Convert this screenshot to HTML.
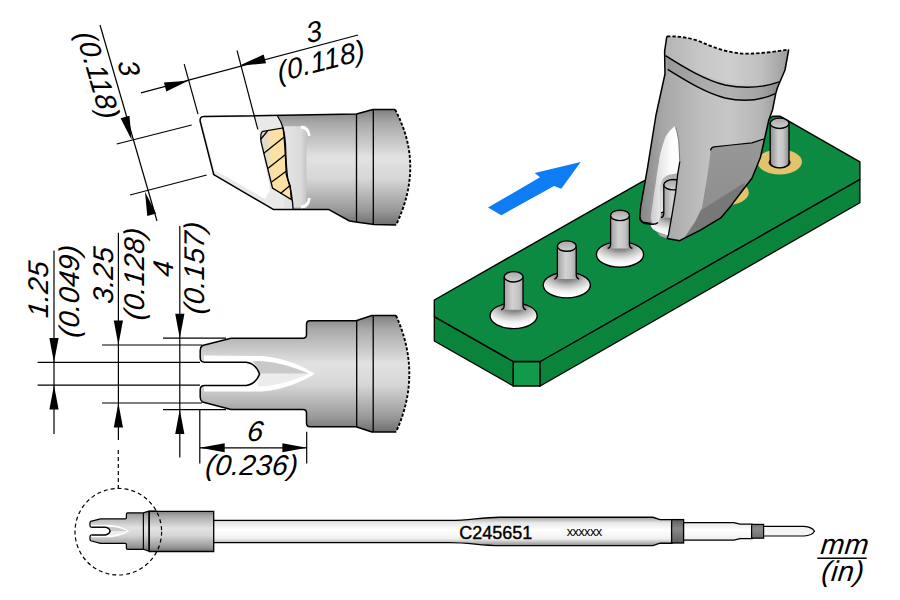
<!DOCTYPE html>
<html><head><meta charset="utf-8">
<style>
html,body{margin:0;padding:0;background:#fff;}
body{width:900px;height:600px;overflow:hidden;}
svg{display:block;}
text{font-family:"Liberation Sans",sans-serif;font-style:italic;fill:#000;}
</style></head><body>
<svg width="900" height="600" viewBox="0 0 900 600">
<defs>
<linearGradient id="gT" x1="0" y1="109" x2="0" y2="225" gradientUnits="userSpaceOnUse">
<stop offset="0" stop-color="#7e7e7e"/><stop offset="0.12" stop-color="#a8a8a8"/><stop offset="0.42" stop-color="#e2e2e2"/><stop offset="0.6" stop-color="#d6d6d6"/><stop offset="0.88" stop-color="#979797"/><stop offset="1" stop-color="#6e6e6e"/>
</linearGradient>
<linearGradient id="gM" x1="0" y1="315" x2="0" y2="432" gradientUnits="userSpaceOnUse">
<stop offset="0" stop-color="#7e7e7e"/><stop offset="0.12" stop-color="#a8a8a8"/><stop offset="0.42" stop-color="#e2e2e2"/><stop offset="0.6" stop-color="#d6d6d6"/><stop offset="0.88" stop-color="#979797"/><stop offset="1" stop-color="#6e6e6e"/>
</linearGradient>
<linearGradient id="gB" x1="0" y1="511" x2="0" y2="552" gradientUnits="userSpaceOnUse">
<stop offset="0" stop-color="#7e7e7e"/><stop offset="0.12" stop-color="#a8a8a8"/><stop offset="0.42" stop-color="#e2e2e2"/><stop offset="0.6" stop-color="#d6d6d6"/><stop offset="0.88" stop-color="#979797"/><stop offset="1" stop-color="#6e6e6e"/>
</linearGradient>
<linearGradient id="gS" x1="0" y1="517" x2="0" y2="546" gradientUnits="userSpaceOnUse">
<stop offset="0" stop-color="#9a9a9a"/><stop offset="0.2" stop-color="#e8e8e8"/><stop offset="0.45" stop-color="#ffffff"/><stop offset="0.75" stop-color="#f0f0f0"/><stop offset="1" stop-color="#8a8a8a"/>
</linearGradient>
<linearGradient id="gD" x1="0" y1="519" x2="0" y2="544" gradientUnits="userSpaceOnUse">
<stop offset="0" stop-color="#5a5a5a"/><stop offset="0.4" stop-color="#8a8a8a"/><stop offset="1" stop-color="#5a5a5a"/>
</linearGradient>
<linearGradient id="gPin" x1="0" y1="0" x2="1" y2="0">
<stop offset="0" stop-color="#8e8e8e"/><stop offset="0.45" stop-color="#d2d2d2"/><stop offset="0.7" stop-color="#c4c4c4"/><stop offset="1" stop-color="#8a8a8a"/>
</linearGradient>
<radialGradient id="gFl" cx="0.5" cy="0.12" r="0.78" fx="0.5" fy="0.12">
<stop offset="0" stop-color="#6a6a6a"/><stop offset="0.3" stop-color="#8c8c8c"/><stop offset="0.52" stop-color="#c2c2c2"/><stop offset="0.78" stop-color="#eeeeee"/><stop offset="1" stop-color="#ffffff"/>
</radialGradient>
<linearGradient id="gTip3" x1="640" y1="0" x2="790" y2="0" gradientUnits="userSpaceOnUse">
<stop offset="0" stop-color="#868686"/><stop offset="0.15" stop-color="#a6a6a6"/><stop offset="0.42" stop-color="#bfbfbf"/><stop offset="0.6" stop-color="#c6c6c6"/><stop offset="0.8" stop-color="#b6b6b6"/><stop offset="0.92" stop-color="#9c9c9c"/><stop offset="1" stop-color="#888888"/>
</linearGradient>
<linearGradient id="gFace" x1="0" y1="140" x2="0" y2="240" gradientUnits="userSpaceOnUse">
<stop offset="0" stop-color="#989898"/><stop offset="1" stop-color="#8a8a8a"/>
</linearGradient>
<clipPath id="slotclip"><path d="M677.7 173.3 L668.3 175 C665 176.5 663 178 662 180.5 C660.5 184 660 190 660.2 200 L660.8 215 Q660.5 220 658 222.5 L650 224.5 L652 229 L656 231 L668.3 235.6 L671.5 217.9 L675.6 192.9 L677.7 174.2 Z"/></clipPath>
<linearGradient id="gTop" x1="0" y1="0" x2="0" y2="1"><stop offset="0" stop-color="#a8a8a8"/><stop offset="1" stop-color="#d0d0d0"/></linearGradient>
<linearGradient id="gCr" x1="650" y1="0" x2="680" y2="0" gradientUnits="userSpaceOnUse"><stop offset="0" stop-color="#c8c8c8"/><stop offset="0.35" stop-color="#e8e8e8"/><stop offset="0.7" stop-color="#fcfcfc"/><stop offset="1" stop-color="#ffffff"/></linearGradient>
<linearGradient id="gCol" x1="284" y1="0" x2="306.5" y2="0" gradientUnits="userSpaceOnUse"><stop offset="0" stop-color="#e4e4e4"/><stop offset="0.75" stop-color="#dadada"/><stop offset="1" stop-color="#c4c4c4"/></linearGradient>
<linearGradient id="gHat" x1="261" y1="0" x2="291" y2="0" gradientUnits="userSpaceOnUse"><stop offset="0" stop-color="#d8d8d8"/><stop offset="0.22" stop-color="#e8dcc0"/><stop offset="0.4" stop-color="#fbe2a4"/><stop offset="1" stop-color="#fbe2a4"/></linearGradient>
<linearGradient id="gCav" x1="0" y1="173" x2="0" y2="236" gradientUnits="userSpaceOnUse"><stop offset="0" stop-color="#a8a8a8"/><stop offset="0.3" stop-color="#d8d8d8"/><stop offset="1" stop-color="#f0f0f0"/></linearGradient>
</defs>

<!-- ===== Top tip (side view) ===== -->
<g id="toptip">
<path d="M203.5 116.6 L356.5 114 L372.8 109.5 L395 109.5 Q425 165 396 225 L374 224.5 L357.7 222.2 L349.5 221 L328.5 209.4 L273.3 209.4 L213.8 174.7 L200.2 121.5 Q199.4 116.6 203.5 116.6 Z" fill="url(#gT)"/>
<!-- chisel area -->
<path d="M203.5 116.6 L277.5 116 C283 124 284.5 132 285.5 145 C286 160 286.5 172 288 180 C290.5 188 292.5 198 293.1 209.4 L273.3 209.4 L213.8 174.7 L200.2 121.5 Q199.4 116.6 203.5 116.6 Z" fill="#e9e9e9"/>
<path d="M202 117.5 L256 117.5 L258 128 L270 190 L265 199 L220 173 L214.5 171 L201.5 120 Z" fill="#ffffff"/>
<!-- collar highlight -->
<rect x="284" y="126.2" width="22.5" height="81.4" fill="url(#gCol)"/>
<path d="M301 127 Q308.5 127.5 309.3 136" fill="none" stroke="#fff" stroke-width="2.8"/>
<path d="M301 207 Q308.5 206.5 309.3 198" fill="none" stroke="#fff" stroke-width="2.8"/>
<!-- hatch -->
<path d="M263 131.3 L283 127.9 C285 140 285.5 160 286.3 174.7 C287.5 180 290 184 290.4 186.7 L291.3 199.5 L272.5 188 L261 141.7 Q260 132 263 131.3 Z" fill="url(#gHat)" stroke="#000" stroke-width="1.3"/>
<g stroke="#000" stroke-width="1.3">
<line x1="260.5" y1="139.5" x2="267.5" y2="131"/>
<line x1="263.5" y1="153.5" x2="284.2" y2="137"/>
<line x1="267.8" y1="168.5" x2="285.5" y2="154.5"/>
<line x1="271.6" y1="182" x2="286.5" y2="171"/>
<line x1="280.5" y1="193.5" x2="290" y2="185.5"/>
</g>
<path d="M277.5 116 C283 124 284.5 132 285.5 145 C286 160 286.5 172 288 180 C290.5 188 292.5 198 293.1 209.4" fill="none" stroke="#000" stroke-width="1.3"/>
<path d="M203.5 116.6 L356.5 114 L372.8 109.5 L395 109.5 M396 225 L374 224.5 L357.7 222.2 L349.5 221 L328.5 209.4 L273.3 209.4 L213.8 174.7 L200.2 121.5 Q199.4 116.6 203.5 116.6" fill="none" stroke="#000" stroke-width="1.5" stroke-linejoin="round"/>
<path d="M395 109.5 Q425 165 396 225" fill="none" stroke="#000" stroke-width="1.9" stroke-dasharray="3 1.8"/>
<line x1="356.5" y1="114" x2="356.5" y2="222.2" stroke="#000" stroke-width="1.3"/>
<line x1="373.3" y1="109.5" x2="373.3" y2="224.5" stroke="#000" stroke-width="1.3"/>
</g>

<!-- ===== Middle tip (top view) ===== -->
<g id="midtip">
<path id="midOutline" d="M231 338.2 L303 338.2 Q306.5 338.2 306.5 334.5 L306.5 324.5 Q306.5 320.8 310 320.8 L356 320.8 L372 315.5 L396 315.5 Q422.6 373.8 396 432 L372 432 L356 426.8 L310 426.8 Q306.5 426.8 306.5 423 L306.5 413 Q306.5 409.5 303 409.5 L231 409.5 L202.5 402 Q200.2 400.5 200.2 397 L200.2 390 Q200.2 385.5 204.5 385.5 L246 385.5 Q256 384 259.5 374 Q256 363.5 246 362.2 L204.5 362.2 Q200.2 362.2 200.2 357.5 L200.2 350.5 Q200.2 347 202.5 345.5 Z" fill="url(#gM)"/>
<!-- inner groove highlights -->
<path d="M204 355.5 L262 356 C285 358 302 366 315 373.8 C302 381.6 285 389.6 262 391.5 L204 391.5 L204 385.5 L246 385.5 Q256 384 259.5 374 Q256 363.5 246 362.2 L204 362.2 Z" fill="#ffffff"/>
<path d="M258 361 C280 362 296 368 309 373.8 L260 373.8 Q258 366 252 361.5 Z" fill="#c9c9c9"/>
<path d="M260 373.8 L309 373.8 C296 379.6 280 385.6 258 386.6 Q257 381 260 373.8 Z" fill="#ececec"/>
<path d="M231 338.2 L303 338.2 Q306.5 338.2 306.5 334.5 L306.5 324.5 Q306.5 320.8 310 320.8 L356 320.8 L372 315.5 L396 315.5 M396 432 L372 432 L356 426.8 L310 426.8 Q306.5 426.8 306.5 423 L306.5 413 Q306.5 409.5 303 409.5 L231 409.5 L202.5 402 Q200.2 400.5 200.2 397 L200.2 390 Q200.2 385.5 204.5 385.5 L246 385.5 Q256 384 259.5 374 Q256 363.5 246 362.2 L204.5 362.2 Q200.2 362.2 200.2 357.5 L200.2 350.5 Q200.2 347 202.5 345.5 L231 338.2" fill="none" stroke="#000" stroke-width="1.5" stroke-linejoin="round"/>
<path d="M396 315.5 Q422.6 373.8 396 432" fill="none" stroke="#000" stroke-width="1.9" stroke-dasharray="3 1.8"/>
<line x1="356.7" y1="320.6" x2="356.7" y2="427" stroke="#000" stroke-width="1.3"/>
<line x1="373.2" y1="315.5" x2="373.2" y2="432" stroke="#000" stroke-width="1.3"/>
</g>

<!-- ===== Dimension lines ===== -->
<g stroke="#000" stroke-width="1.2" fill="none">
<!-- top vertical-ish dim -->
<line x1="100" y1="25" x2="157" y2="221"/>
<line x1="116.7" y1="144" x2="191.7" y2="125"/>
<line x1="130" y1="195" x2="206.7" y2="175"/>
<!-- top horizontal-ish dim -->
<line x1="141" y1="92.8" x2="358" y2="35"/>
<line x1="184.2" y1="64.2" x2="198" y2="114.2"/>
<line x1="237" y1="50.3" x2="257.8" y2="129.4"/>
<!-- left vertical dims -->
<line x1="54" y1="250.6" x2="54" y2="434"/>
<line x1="118.4" y1="232.7" x2="118.4" y2="440"/>
<line x1="179.8" y1="226" x2="179.8" y2="457.5"/>
<line x1="37.6" y1="362.4" x2="200" y2="362.4"/>
<line x1="37.6" y1="385.2" x2="200" y2="385.2"/>
<line x1="102" y1="345" x2="202" y2="345"/>
<line x1="102" y1="403" x2="202" y2="403"/>
<line x1="163" y1="338.2" x2="226" y2="338.2"/>
<line x1="163" y1="409.6" x2="226" y2="409.6"/>
<!-- bottom 6 dim -->
<line x1="199.8" y1="409.6" x2="199.8" y2="463.4"/>
<line x1="306.7" y1="431.7" x2="306.7" y2="463.4"/>
<line x1="199.8" y1="447.8" x2="306.7" y2="447.8"/>
</g>
<!-- arrowheads -->
<g fill="#000">
<path d="M54 362.4 L49.4 338 L58.6 338 Z"/>
<path d="M54 385.2 L49.4 409.6 L58.6 409.6 Z"/>
<path d="M118.4 345 L113.8 320.6 L123 320.6 Z"/>
<path d="M118.4 403 L113.8 427.4 L123 427.4 Z"/>
<path d="M179.8 338.2 L175.2 313.8 L184.4 313.8 Z"/>
<path d="M179.8 409.6 L175.2 434 L184.4 434 Z"/>
<path d="M199.8 447.8 L224.7 443.3 L224.7 452.3 Z"/>
<path d="M306.7 447.8 L282.4 443.3 L282.4 452.3 Z"/>
<!-- rotated dims arrows -->
<g transform="translate(131.7,140) rotate(-16.2)"><path d="M0 0 L-4.6 -24 L4.6 -24 Z"/></g>
<g transform="translate(145,191.7) rotate(-16.2)"><path d="M0 0 L-4.6 24 L4.6 24 Z"/></g>
<g transform="translate(188.3,80.8) rotate(-14.9)"><path d="M0 0 L-24 -4.6 L-24 4.6 Z"/></g>
<g transform="translate(239.7,65.6) rotate(-14.9)"><path d="M0 0 L26 -4.6 L26 4.6 Z"/></g>
</g>

<!-- dimension texts -->
<g font-size="28.5" letter-spacing="0.3">
<text transform="translate(314,31.5) rotate(-14.9) skewX(-6)" text-anchor="middle" dy="0.35em">3</text>
<text transform="translate(321.5,63.3) rotate(-14.9) skewX(-6)" text-anchor="middle" dy="0.26em">(0.118)</text>
<text transform="translate(129.2,68.3) rotate(73.8) skewX(-6)" text-anchor="middle" dy="0.35em">3</text>
<text transform="translate(95.8,75.8) rotate(73.8) skewX(-6)" text-anchor="middle" dy="0.26em">(0.118)</text>
<text transform="translate(38.5,289.2) rotate(-90) skewX(-6)" text-anchor="middle" dy="0.35em">1.25</text>
<text transform="translate(71.2,291.2) rotate(-90) skewX(-6)" text-anchor="middle" dy="0.26em">(0.049)</text>
<text transform="translate(102.9,274.9) rotate(-90) skewX(-6)" text-anchor="middle" dy="0.35em">3.25</text>
<text transform="translate(136.1,273.9) rotate(-90) skewX(-6)" text-anchor="middle" dy="0.26em">(0.128)</text>
<text transform="translate(163.5,268.5) rotate(-90) skewX(-6)" text-anchor="middle" dy="0.35em">4</text>
<text transform="translate(196.6,267.9) rotate(-90) skewX(-6)" text-anchor="middle" dy="0.26em">(0.157)</text>
<text transform="translate(254.5,441.3) skewX(-6)" text-anchor="middle">6</text>
<text transform="translate(251,474.8) skewX(-6)" text-anchor="middle">(0.236)</text>
<text transform="translate(844,554.3) skewX(-6)" text-anchor="middle">mm</text>
<text transform="translate(842,581.3) skewX(-6)" text-anchor="middle">(in)</text>
</g>
<line x1="817.3" y1="558.3" x2="866.7" y2="558.3" stroke="#000" stroke-width="1.5"/>

<!-- ===== Bottom full tip ===== -->
<g id="bottomtip">
<!-- shaft -->
<path d="M213 520.4 L450 520.4 C470 520.4 480 517.4 500 517.3 L653 517.3 L660 519.6 L672 519.6 L672 543.2 L660 543.2 L653 545.6 L500 545.6 C480 545.6 470 542.6 450 542.6 L213 542.6 Z" fill="url(#gS)" stroke="#000" stroke-width="1.4"/>
<rect x="671.6" y="519.6" width="12" height="23.4" fill="url(#gD)" stroke="#000" stroke-width="1.3"/>
<path d="M683.6 522.6 L734 522.6 L740 524.2 L752 524.2 L752 538.6 L740 538.6 L734 540.2 L683.6 540.2 Z" fill="url(#gS)" stroke="#000" stroke-width="1.3"/>
<rect x="751.6" y="524.4" width="12" height="13.8" fill="url(#gD)" stroke="#000" stroke-width="1.2"/>
<path d="M763.6 526.4 L804 526.4 Q812 527 814.5 531.2 Q812 535.5 804 536 L763.6 536 Z" fill="#f4f4f4" stroke="#000" stroke-width="1.2"/>
<!-- body -->
<g transform="translate(126.4,531.1) scale(0.343) translate(-306.5,-373.8)">
<path d="M231 338.2 L303 338.2 Q306.5 338.2 306.5 334.5 L306.5 324.5 Q306.5 320.8 310 320.8 L356 320.8 L372 315.5 L396 315.5 L396 432 L372 432 L356 426.8 L310 426.8 Q306.5 426.8 306.5 423 L306.5 413 Q306.5 409.5 303 409.5 L231 409.5 L202.5 402 Q200.2 400.5 200.2 397 L200.2 390 Q200.2 385.5 204.5 385.5 L246 385.5 Q256 384 259.5 374 Q256 363.5 246 362.2 L204.5 362.2 Q200.2 362.2 200.2 357.5 L200.2 350.5 Q200.2 347 202.5 345.5 Z" fill="url(#gM)" stroke="#000" stroke-width="3.6" stroke-linejoin="round"/>
<path d="M204 355.5 L262 356 C285 358 302 366 315 373.8 C302 381.6 285 389.6 262 391.5 L204 391.5 L204 385.5 L246 385.5 Q256 384 259.5 374 Q256 363.5 246 362.2 L204 362.2 Z" fill="#ffffff"/>
<path d="M258 361 C280 362 296 368 309 373.8 L260 373.8 Q258 366 252 361.5 Z" fill="#c9c9c9"/>
<path d="M260 373.8 L309 373.8 C296 379.6 280 385.6 258 386.6 Q257 381 260 373.8 Z" fill="#ececec"/>
<path d="M204.5 385.5 L246 385.5 Q256 384 259.5 374 Q256 363.5 246 362.2 L204.5 362.2" fill="none" stroke="#000" stroke-width="3.6"/>
<line x1="356" y1="320.8" x2="356" y2="426.8" stroke="#000" stroke-width="3.4"/>
<line x1="372.3" y1="315.5" x2="372.3" y2="432" stroke="#000" stroke-width="3.4"/>
</g>
<path d="M149.3 511.4 L213.7 511.4 L213.7 551.5 L149.3 551.5 Z" fill="url(#gB)" stroke="#000" stroke-width="1.3"/>
<!-- dashed circle & leader -->
<circle cx="118.3" cy="531.7" r="43.3" fill="none" stroke="#000" stroke-width="1.2" stroke-dasharray="4 3"/>
<line x1="118.3" y1="450" x2="118.3" y2="488.4" stroke="#000" stroke-width="1.2" stroke-dasharray="4 3"/>
<text x="459.3" y="539" font-size="18" stroke="#000" stroke-width="0.4" style="font-style:normal">C245651</text>
<text x="566.7" y="536.1" font-size="12.8" letter-spacing="-0.6" style="font-style:normal">xxxxxx</text>
</g>

<!-- ===== 3D illustration ===== -->
<g id="iso">
<!-- blue arrow -->
<path d="M488 207.6 L501.3 215.3 L554 186 L561.3 188.7 L580.7 162 L534.7 172.9 L540 177.3 Z" fill="#0e7cf4"/>
<!-- board side faces -->
<path d="M434.3 316.7 L513.3 361.5 L513.3 386 L434.3 341 Z" fill="#0b843b" stroke="#000" stroke-width="1.3" stroke-linejoin="round"/>
<path d="M513.3 361.5 L540.2 361.5 L540.2 386 L513.3 386 Z" fill="#109a49" stroke="#000" stroke-width="1.3"/>
<path d="M540.2 361.5 L859.9 179.3 L859.9 202.7 L540.2 386 Z" fill="#0b843b" stroke="#000" stroke-width="1.3" stroke-linejoin="round"/>
<!-- board top -->
<path d="M434.3 300 L641 182.3 L769 118.5 L773 116.2 L780 116.2 L859.9 161.8 L859.9 179.3 L540.2 361.5 L513.3 361.5 L434.3 316.7 Z" fill="#0c8a41" stroke="#000" stroke-width="1.4" stroke-linejoin="round"/>
<ellipse cx="513.6" cy="315.8" rx="23.6" ry="12.8" fill="url(#gFl)" stroke="#000" stroke-width="1.4"/>
<path d="M504.2 276.8 L504.2 305.8 Q504.2 308.8 501.2 309.8 L526.0 309.8 Q523.0 308.8 523.0 305.8 L523.0 276.8 Z" fill="url(#gPin)"/>
<path d="M504.2 276.8 L504.2 305.8 Q504.2 308.8 501.2 309.8 M526.0 309.8 Q523.0 308.8 523.0 305.8 L523.0 276.8" fill="none" stroke="#000" stroke-width="1.3"/>
<ellipse cx="513.6" cy="276.8" rx="9.4" ry="5.2" fill="url(#gTop)" stroke="#000" stroke-width="1.4"/>
<ellipse cx="566.8" cy="285.1" rx="23.6" ry="12.8" fill="url(#gFl)" stroke="#000" stroke-width="1.4"/>
<path d="M557.4 246.1 L557.4 275.1 Q557.4 278.1 554.4 279.1 L579.2 279.1 Q576.2 278.1 576.2 275.1 L576.2 246.1 Z" fill="url(#gPin)"/>
<path d="M557.4 246.1 L557.4 275.1 Q557.4 278.1 554.4 279.1 M579.2 279.1 Q576.2 278.1 576.2 275.1 L576.2 246.1" fill="none" stroke="#000" stroke-width="1.3"/>
<ellipse cx="566.8" cy="246.1" rx="9.4" ry="5.2" fill="url(#gTop)" stroke="#000" stroke-width="1.4"/>
<ellipse cx="620.0" cy="254.4" rx="23.6" ry="12.8" fill="url(#gFl)" stroke="#000" stroke-width="1.4"/>
<path d="M610.6 215.4 L610.6 244.4 Q610.6 247.4 607.6 248.4 L632.4 248.4 Q629.4 247.4 629.4 244.4 L629.4 215.4 Z" fill="url(#gPin)"/>
<path d="M610.6 215.4 L610.6 244.4 Q610.6 247.4 607.6 248.4 M632.4 248.4 Q629.4 247.4 629.4 244.4 L629.4 215.4" fill="none" stroke="#000" stroke-width="1.3"/>
<ellipse cx="620.0" cy="215.4" rx="9.4" ry="5.2" fill="url(#gTop)" stroke="#000" stroke-width="1.4"/>
<ellipse cx="726.4" cy="192.5" rx="22.4" ry="12.6" fill="#e3c46c"/>
<ellipse cx="726.4" cy="193.3" rx="11.2" ry="5.6" fill="#2a2a2a"/>
<path d="M717.0 154.0 L717.0 193.5 A9.4 5 0 0 0 735.8 193.5 L735.8 154.0 Z" fill="url(#gPin)" stroke="#000" stroke-width="1.3"/>
<ellipse cx="726.4" cy="154.0" rx="9.4" ry="5.2" fill="url(#gTop)" stroke="#000" stroke-width="1.4"/>
<ellipse cx="779.6" cy="161.8" rx="22.4" ry="12.6" fill="#e3c46c"/>
<ellipse cx="779.6" cy="162.6" rx="11.2" ry="5.6" fill="#2a2a2a"/>
<path d="M770.2 123.3 L770.2 162.8 A9.4 5 0 0 0 789.0 162.8 L789.0 123.3 Z" fill="url(#gPin)" stroke="#000" stroke-width="1.3"/>
<ellipse cx="779.6" cy="123.3" rx="9.4" ry="5.2" fill="url(#gTop)" stroke="#000" stroke-width="1.4"/>
<!-- 3D tip -->
<path d="M666.8 36.3 C683 36 695 39 705.6 43.9 C716 48.5 730 53 743.3 53.6 C760 54 775 51.5 788.7 49.6 L785 70 Q782 77 780 81.7 Q777 88 775.8 93.3 L772.5 110 L768.8 120 L764.6 138.75 L760.4 157.5 L752 178.3 L743.8 188.75 L731.3 205.4 L720.8 217.9 L700 230.4 L683 238.8 L679.9 240.7 L666.9 238.6 L660 236 L650.6 223.4 L643 222.3 Q639.5 220 639.8 216.9 L640.8 206 L647.3 169.2 L656 115 L665 74 L664.6 51.4 Z" fill="url(#gTip3)"/>
<path d="M666.8 36.3 C683 36 695 39 705.6 43.9 C716 48.5 730 53 743.3 53.6 C760 54 775 51.5 788.7 49.6 L785 70 Q782 77 780 81.7 C760 88 740 86 715 79 C700 74 690 70 665.5 55.2 Z" fill="#ffffff" opacity="0.15"/>
<path d="M665.5 55.6 C685 68 705 80 725 85 C745 89 765 87 780 81.7 Q777 88 775.8 93.3 C762 100 745 102.5 725 98 C705 93 685 80 667.6 69.4 Z" fill="#000" opacity="0.1"/>
<!-- crescent -->
<path d="M677.7 173.3 L668.3 175 C665 176.5 663 178 662 180.5 C660.5 184 660 190 660.2 200 L660.8 215 Q660.5 220 658 222.5 L652 224.5 Q652.5 229 656 231 L668.3 235.6 L671.5 217.9 L675.6 192.9 L677.7 174.2 Z" fill="url(#gCav)"/>
<g clip-path="url(#slotclip)">
<ellipse cx="673.2" cy="223.7" rx="23.6" ry="12.8" fill="url(#gFl)" stroke="#000" stroke-width="1.4"/>
<path d="M663.8 184.7 L663.8 213.7 Q663.8 216.7 660.8 217.7 L685.6 217.7 Q682.6 216.7 682.6 213.7 L682.6 184.7 Z" fill="url(#gPin)"/>
<path d="M663.8 184.7 L663.8 213.7 Q663.8 216.7 660.8 217.7 M685.6 217.7 Q682.6 216.7 682.6 213.7 L682.6 184.7" fill="none" stroke="#000" stroke-width="1.3"/>
<ellipse cx="673.2" cy="184.7" rx="9.4" ry="5.2" fill="url(#gTop)" stroke="#000" stroke-width="1.4"/>
</g>
<path d="M674.6 126.25 C668 132 665.5 136 664.2 140.8 C661 150 659.5 156 659 161.7 C657.5 170 656.5 176 655.8 182.5 C654.5 190 653.5 197 652.7 203.3 C651.8 210 651 214 650.6 218 Q651 223.5 655 224 Q659 223.5 660.8 215 L660.2 200 C660 190 660.5 184 662 180.5 C663 178 665 176.5 668.3 175 L677.7 173.3 L679.8 161.7 L678.75 140.8 L676.7 130.4 Z" fill="url(#gCr)"/>
<path d="M639.8 216.9 Q640.5 222.5 645 223.5 L652 224.3 Q656 224.5 658 222.5" fill="none" stroke="#000" stroke-width="1.4"/>
<!-- chisel face -->
<path d="M714 146.9 L731.3 145 L752 142.9 L764.6 138.75 L760.4 157.5 L752 178.3 L743.8 188.75 L731.3 205.4 L720.8 217.9 L700 230.4 L684 238.5 L695 222 L700 213.75 L702 207.5 L706.25 182.5 L709.4 161.7 L710.6 150.5 Q711 147.2 714 146.9 Z" fill="url(#gFace)"/>
<path d="M700.5 210.5 L745 182.5 L743.8 188.75 L731.3 205.4 L720.8 217.9 L700 230.4 L684 238.5 L695 222 Z" fill="#787878"/>
<path d="M710.6 150.5 Q711 147.2 714 146.9 L731.3 145 L752 142.9 L764.6 138.75" fill="none" stroke="#000" stroke-width="1.2"/>
<!-- right prong edge -->
<path d="M675.5 127.5 L676.7 130.4 L678.75 140.8 L679.8 161.7" fill="none" stroke="#777" stroke-width="1"/>
<path d="M679.8 161.7 L677.7 174.2 L675.6 192.9 L671.5 217.9 L668.3 235.6 L666.9 238.6" fill="none" stroke="#000" stroke-width="1.3" stroke-linejoin="round"/>
<!-- ring lines -->
<path d="M665.5 55.6 C685 68 705 80 725 85 C745 89 765 87 780 81.7" fill="none" stroke="#000" stroke-width="1.4"/>
<path d="M667.6 69.4 C685 80 705 93 725 98 C745 102.5 762 100 775.8 93.3" fill="none" stroke="#000" stroke-width="1.4"/>
<!-- outline -->
<path d="M788.7 49.6 L785 70 Q782 77 780 81.7 Q777 88 775.8 93.3 L772.5 110 L768.8 120 L764.6 138.75 L760.4 157.5 L752 178.3 L743.8 188.75 L731.3 205.4 L720.8 217.9 L700 230.4 L683 238.8 L679.9 240.7 L666.9 238.6 M650.6 223.4 L643 222.3 Q639.5 220 639.8 216.9 L640.8 206 L647.3 169.2 L656 115 L665 74 L664.6 51.4 L666.8 36.3" fill="none" stroke="#000" stroke-width="1.5" stroke-linejoin="round"/>
<path d="M666.8 36.3 C683 36 695 39 705.6 43.9 C716 48.5 730 53 743.3 53.6 C760 54 775 51.5 788.7 49.6" fill="none" stroke="#000" stroke-width="1.8" stroke-dasharray="3.4 2"/>
</g>
</svg>
</body></html>
